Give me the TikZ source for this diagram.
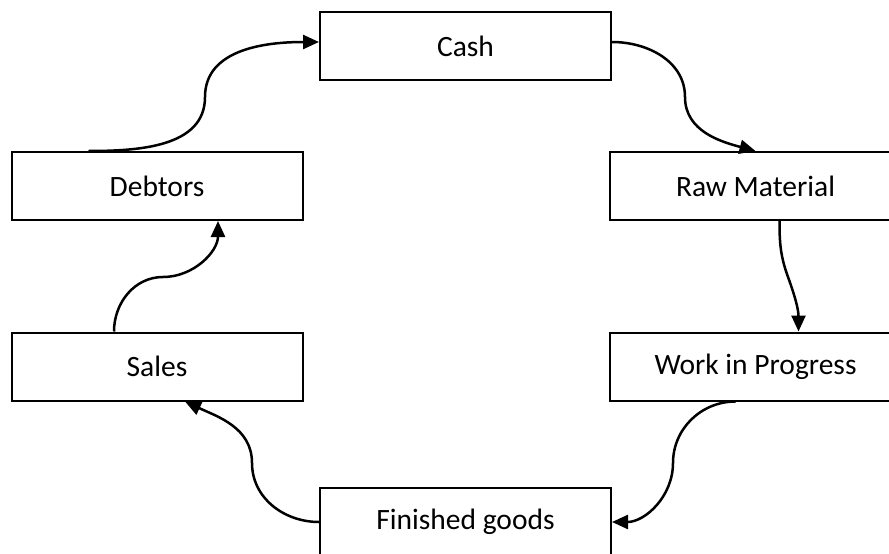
\documentclass[tikz,border=0pt]{standalone}
\usepackage{fontspec}
\setmainfont{Carlito}
\usetikzlibrary{arrows.meta}
\begin{document}
\begin{tikzpicture}[x=1pt,y=-1pt,
  box/.style={draw=black,line width=2pt,fill=white,rectangle,minimum width=291pt,minimum height=68pt,inner sep=0pt,font=\fontsize{29.5}{34}\selectfont},
  flow/.style={line width=2.5pt,-{Triangle[length=16pt,width=14pt]}}]
\useasboundingbox (0,0) rectangle (889,554);
\clip (0,0) rectangle (889,554);
\node[box] (cash) at (465.5,46) {Cash};
\node[box] (debtors) at (157,186) {Debtors};
\node[box] (raw) at (755.5,186) {Raw Material};
\node[box] (sales) at (157,366.5) {Sales};
\node[box] (wip) at (755.5,366.5) {Work in Progress};
\node[box] (fg) at (465.5,522) {Finished goods};
\coordinate (m1) at (205,97);
\coordinate (m2) at (685,97);
\coordinate (m3) at (788,277);
\coordinate (m4) at (673,463);
\coordinate (m5) at (252,463);
\coordinate (m6) at (163,277);
\draw[flow] ([xshift=78pt]debtors.north west) to[out=0,in=-90] (m1) to[out=90,in=180] ([yshift=4pt]cash.west);
\draw[flow] ([yshift=4pt]cash.east) to[out=0,in=90] (m2) to[out=-90,in=165] (raw.north);
\draw[flow] ([xshift=24pt]raw.south) to[out=-90,in=110] (m3) to[out=-70,in=90] ([xshift=43pt]wip.north);
\draw[flow] ([xshift=-20pt]wip.south) to[out=180,in=90] (m4) to[out=-90,in=0] (fg.east);
\draw[flow] (fg.west) to[out=180,in=-90] (m5) to[out=90,in=-25] ([xshift=28pt]sales.south);
\draw[flow] ([xshift=-43pt]sales.north) to[out=90,in=180] (m6) to[out=0,in=-90] ([xshift=61pt]debtors.south);
\end{tikzpicture}
\end{document}
